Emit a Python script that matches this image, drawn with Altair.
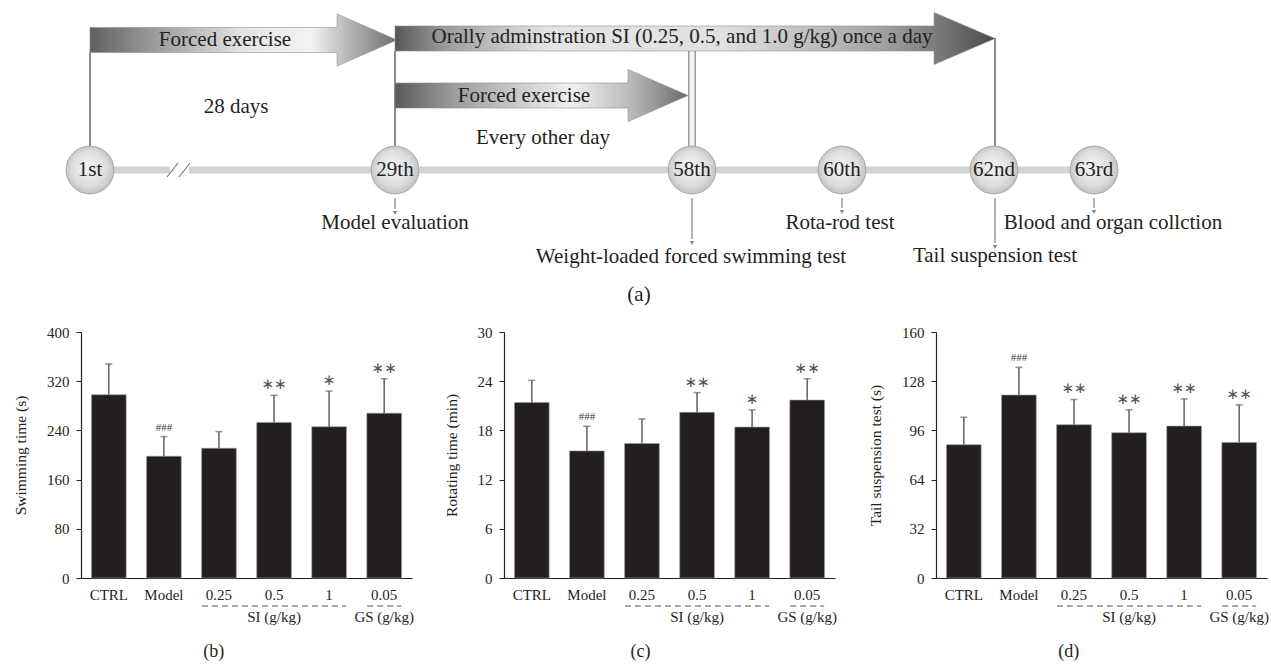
import altair as alt
import pandas as pd

FONT = "Liberation Serif"
INK = "#231f20"
W, H = 1271, 320
TF = 21  # timeline font size

# ---------------- panel (a): timeline -----------------
day_labels = ["1st", "29th", "58th", "60th", "62nd", "63rd"]
day_x = [90, 395, 692, 842, 994, 1094]
timeline_y = 170

event_labels = ["Model evaluation", "Weight-loaded forced swimming test",
                "Rota-rod test", "Tail suspension test", "Blood and organ collction"]
event_x = [395, 692, 842, 995, 1094]
event_arrow_end = [213, 243, 212, 247, 212]
event_label_x = [395, 691, 840, 995, 1113]
event_label_y = [223, 257, 223, 256, 223]

arrow_texts = ["Forced exercise",
               "Orally adminstration SI (0.25, 0.5, and 1.0 g/kg) once a day",
               "Forced exercise"]
arrow_x0 = [90, 395, 395]
arrow_xh = [337, 934, 628]
arrow_tip = [397, 995, 688]
arrow_yc = [40, 38.5, 95.5]
arrow_text_x = [225, 682, 524]

free_texts = ["28 days", "Every other day", "(a)"]
free_x = [236, 543, 639]
free_y = [107, 138, 295]

connectors_x = [90, 395, 995]
connectors_y0 = [52, 51, 38]

# ---------------- bar panels -----------------
groups = ["CTRL", "Model", "0.25", "0.5", "1", "0.05"]
swim_mean = [298, 198, 211, 253, 246, 268]
swim_sd = [50, 32, 27, 44, 58, 56]
swim_sig = ["", "###", "", "∗∗", "∗", "∗∗"]
rot_mean = [21.4, 15.5, 16.4, 20.2, 18.4, 21.7]
rot_sd = [2.7, 3.0, 3.0, 2.4, 2.1, 2.6]
rot_sig = ["", "###", "", "∗∗", "∗", "∗∗"]
tail_mean = [86.7, 119.0, 99.7, 94.5, 98.8, 88.2]
tail_sd = [17.8, 18.0, 16.4, 14.9, 17.7, 24.4]
tail_sig = ["", "###", "∗∗", "∗∗", "∗∗", "∗∗"]

dose_group_first = ["0.25", "0.05"]
dose_group_last = ["1", "0.05"]
dose_group_mid = ["0.5", "0.05"]
dose_group_label = ["SI (g/kg)", "GS (g/kg)"]

# ============ build panel (a) ============
xs = alt.Scale(domain=[0, W], nice=False, zero=False)
ys = alt.Scale(domain=[0, H], nice=False, zero=False, reverse=True)


def X(f):
    return alt.X(f, type="quantitative", scale=xs, axis=None)


def Y(f):
    return alt.Y(f, type="quantitative", scale=ys, axis=None)


line_df = pd.DataFrame({"x": [day_x[0]], "x2": [day_x[-1]], "y": [timeline_y]})
timeline = alt.Chart(line_df).mark_rule(color="#d3d3d3", strokeWidth=7).encode(
    x=X("x"), x2="x2:Q", y=Y("y"))

brk_df = pd.DataFrame({"x": [170], "x2": [189], "y": [timeline_y]})
brk_gap = alt.Chart(brk_df).mark_rule(color="white", strokeWidth=10).encode(
    x=X("x"), x2="x2:Q", y=Y("y"))
slash_df = pd.DataFrame({"x": [167, 179], "y": [177, 177], "x2": [178, 190], "y2": [163, 163]})
slashes = alt.Chart(slash_df).mark_rule(color="#7a7a7a", strokeWidth=1.2).encode(
    x=X("x"), y=Y("y"), x2="x2:Q", y2="y2:Q")

con_df = pd.DataFrame({"x": connectors_x, "y": connectors_y0,
                       "y2": [timeline_y - 24] * len(connectors_x)})
connectors = alt.Chart(con_df).mark_rule(color="#8a8a8a", strokeWidth=2).encode(
    x=X("x"), y=Y("y"), y2="y2:Q")

dbl_df = pd.DataFrame({"x": [day_x[2]], "y": [51], "y2": [timeline_y - 24]})
dbl_outer = alt.Chart(dbl_df).mark_rule(color="#9a9a9a", strokeWidth=8).encode(
    x=X("x"), y=Y("y"), y2="y2:Q")
dbl_inner = alt.Chart(dbl_df).mark_rule(color="#f4f4f4", strokeWidth=5).encode(
    x=X("x"), y=Y("y"), y2="y2:Q")


def grad(stops):
    return {"gradient": "linear", "x1": 0, "x2": 1, "y1": 0, "y2": 0,
            "stops": [{"offset": o, "color": c} for o, c in stops]}


arrow_grads = [
    grad([(0, "#5f5f5f"), (0.15, "#8c8c8c"), (0.5, "#e4e4e4"), (0.72, "#f3f3f3"),
          (0.8, "#cacaca"), (1, "#6e6e6e")]),
    grad([(0, "#575757"), (0.08, "#9a9a9a"), (0.25, "#e4e4e4"), (0.55, "#e0e0e0"),
          (0.8, "#a6a6a6"), (0.91, "#787878"), (1, "#4a4a4a")]),
    grad([(0, "#5a5a5a"), (0.2, "#9c9c9c"), (0.6, "#f1f1f1"), (0.8, "#bbbbbb"),
          (1, "#6a6a6a")]),
]

arrow_layers = []
for i in range(3):
    yc = arrow_yc[i]
    adf = pd.DataFrame({
        "x": [arrow_x0[i], arrow_xh[i], arrow_xh[i] + 0.05, arrow_tip[i]],
        "t": [yc - 12.5, yc - 12.5, yc - 26, yc],
        "b": [yc + 12.5, yc + 12.5, yc + 26, yc],
    })
    arrow_layers.append(
        alt.Chart(adf).mark_area(fill=arrow_grads[i], stroke="#8f8f8f", strokeWidth=0.6,
                                 interpolate="linear", orient="vertical").encode(
            x=X("x"), y=Y("t"), y2="b:Q"))

arrow_txt_df = pd.DataFrame({"x": arrow_text_x, "y": [arrow_yc[0], arrow_yc[1] - 1.5, arrow_yc[2]],
                             "t": arrow_texts})
arrow_txt = alt.Chart(arrow_txt_df).mark_text(font=FONT, fontSize=TF, color=INK,
                                               baseline="middle").encode(
    x=X("x"), y=Y("y"), text="t:N")

node_df = pd.DataFrame({"x": day_x, "y": [timeline_y] * len(day_x), "t": day_labels})
circle_fill = {"gradient": "radial", "x1": 0.45, "y1": 0.4, "r1": 0,
               "x2": 0.5, "y2": 0.5, "r2": 0.55,
               "stops": [{"offset": 0, "color": "#f4f4f4"},
                         {"offset": 0.65, "color": "#dedede"},
                         {"offset": 1, "color": "#b9b9b9"}]}
nodes = alt.Chart(node_df).mark_point(shape="circle", size=2290, filled=True,
                                      fill=circle_fill, stroke="#a9a9a9",
                                      strokeWidth=1, opacity=1).encode(x=X("x"), y=Y("y"))
node_txt = alt.Chart(node_df).mark_text(font=FONT, fontSize=TF, color=INK,
                                        baseline="middle").encode(
    x=X("x"), y=Y("y"), text="t:N")

ev_df = pd.DataFrame({"x": event_x, "y": [timeline_y + 28] * len(event_x),
                      "y2": [e - 4 for e in event_arrow_end], "ye": event_arrow_end})
ev_rules = alt.Chart(ev_df).mark_rule(color="#8a8a8a", strokeWidth=1.3).encode(
    x=X("x"), y=Y("y"), y2="y2:Q")
ev_heads = alt.Chart(ev_df).mark_point(shape="triangle-down", size=22, filled=True,
                                       color="#8a8a8a", opacity=1).encode(
    x=X("x"), y=Y("ye"))
evl_df = pd.DataFrame({"x": event_label_x, "y": event_label_y, "t": event_labels})
ev_txt = alt.Chart(evl_df).mark_text(font=FONT, fontSize=TF, color=INK,
                                     baseline="middle").encode(
    x=X("x"), y=Y("y"), text="t:N")

free_df = pd.DataFrame({"x": free_x, "y": free_y, "t": free_texts})
free_txt = alt.Chart(free_df).mark_text(font=FONT, fontSize=TF, color=INK,
                                        baseline="middle").encode(
    x=X("x"), y=Y("y"), text="t:N")

top = alt.layer(timeline, brk_gap, slashes, connectors, dbl_outer, dbl_inner,
                *arrow_layers, arrow_txt, nodes, node_txt, ev_rules, ev_heads,
                ev_txt, free_txt).properties(width=W, height=H)

# ============ bar panels ============
PW, PH = 331, 246


def bar_panel(means, sds, sigs, ymax, ystep, ytitle, caption):
    df = pd.DataFrame({"g": groups, "m": means, "sd": sds, "sig": sigs})
    df["hi"] = df["m"] + df["sd"]
    xsc = alt.Scale(domain=groups, paddingInner=0.37, paddingOuter=0.19)
    xenc = alt.X("g:N", scale=xsc, sort=groups,
                 axis=alt.Axis(title=None, labelAngle=0, ticks=False, domainColor=INK,
                               domainWidth=1.2, labelFont=FONT, labelFontSize=15,
                               labelColor=INK, labelPadding=9))
    ysc = alt.Scale(domain=[0, ymax], nice=False, zero=True)
    yenc = alt.Y("m:Q", scale=ysc,
                 axis=alt.Axis(title=ytitle, values=list(range(0, ymax + 1, ystep)),
                               grid=False, tickSize=5, tickColor=INK, domainColor=INK,
                               domainWidth=1.2, labelFont=FONT, labelFontSize=15,
                               labelColor=INK, labelPadding=7, titleFont=FONT,
                               titleFontSize=15.5, titleFontWeight="normal",
                               titleColor=INK, titlePadding=18))
    base = alt.Chart(df)
    bars = base.mark_bar(color=INK, stroke="#9a9a9a", strokeWidth=0.6).encode(x=xenc, y=yenc)
    err = base.mark_rule(color="#6a6a6a", strokeWidth=1.6).encode(
        x=alt.X("g:N", scale=xsc, sort=groups), y="m:Q", y2="hi:Q")
    cap = base.mark_tick(color="#6a6a6a", thickness=1.6, size=7, orient="horizontal").encode(
        x=alt.X("g:N", scale=xsc, sort=groups), y="hi:Q")
    hash_txt = base.transform_filter("datum.sig == '###'").mark_text(
        font=FONT, fontSize=11, color="#3a3a3a", baseline="middle", dy=-9).encode(
        x=alt.X("g:N", scale=xsc, sort=groups), y="hi:Q", text="sig:N")
    star_txt = base.transform_filter("datum.sig != '###' && datum.sig != ''").mark_text(
        font="DejaVu Sans", fontSize=15, color="#555555", baseline="middle", dy=-11).encode(
        x=alt.X("g:N", scale=xsc, sort=groups), y="hi:Q", text="sig:N")

    gdf = pd.DataFrame({"a": dose_group_first, "b": dose_group_last,
                        "c": dose_group_mid, "lab": dose_group_label})
    dash = alt.Chart(gdf).mark_rule(color="#555555", strokeWidth=1.2, strokeDash=[6, 4],
                                    xOffset=-17, x2Offset=17).encode(
        x=alt.X("a:N", scale=xsc, sort=groups), x2="b:N", y=alt.value(PH + 28))
    glab = alt.Chart(gdf).mark_text(font=FONT, fontSize=15, color=INK,
                                    baseline="middle").encode(
        x=alt.X("c:N", scale=xsc, sort=groups), y=alt.value(PH + 38.5), text="lab:N")

    return alt.layer(bars, err, cap, hash_txt, star_txt, dash, glab).properties(
        width=PW, height=PH,
        title=alt.TitleParams(caption, orient="bottom", anchor="middle", frame="bounds",
                              font=FONT, fontSize=18, fontWeight="normal", color=INK,
                              offset=18))


def spacer(w):
    return alt.Chart(pd.DataFrame({"v": [0]})).mark_point(opacity=0).encode(
        x=alt.X("v:Q", axis=None), y=alt.Y("v:Q", axis=None)).properties(width=w, height=PH)


pb = bar_panel(swim_mean, swim_sd, swim_sig, 400, 80, "Swimming time (s)", "(b)")
pc = bar_panel(rot_mean, rot_sd, rot_sig, 30, 6, "Rotating time (min)", "(c)")
pd_ = bar_panel(tail_mean, tail_sd, tail_sig, 160, 32, "Tail suspension test (s)", "(d)")

row = alt.hconcat(spacer(81), pb, spacer(92), pc, spacer(101), pd_, spacing=0, bounds="flush")

chart = alt.vconcat(top, row, spacing=12, bounds="flush").properties(
    padding=0, background="white").configure(font=FONT).configure_view(stroke=None)

chart.save("out.html", embed_options={"renderer": "svg", "actions": False})
